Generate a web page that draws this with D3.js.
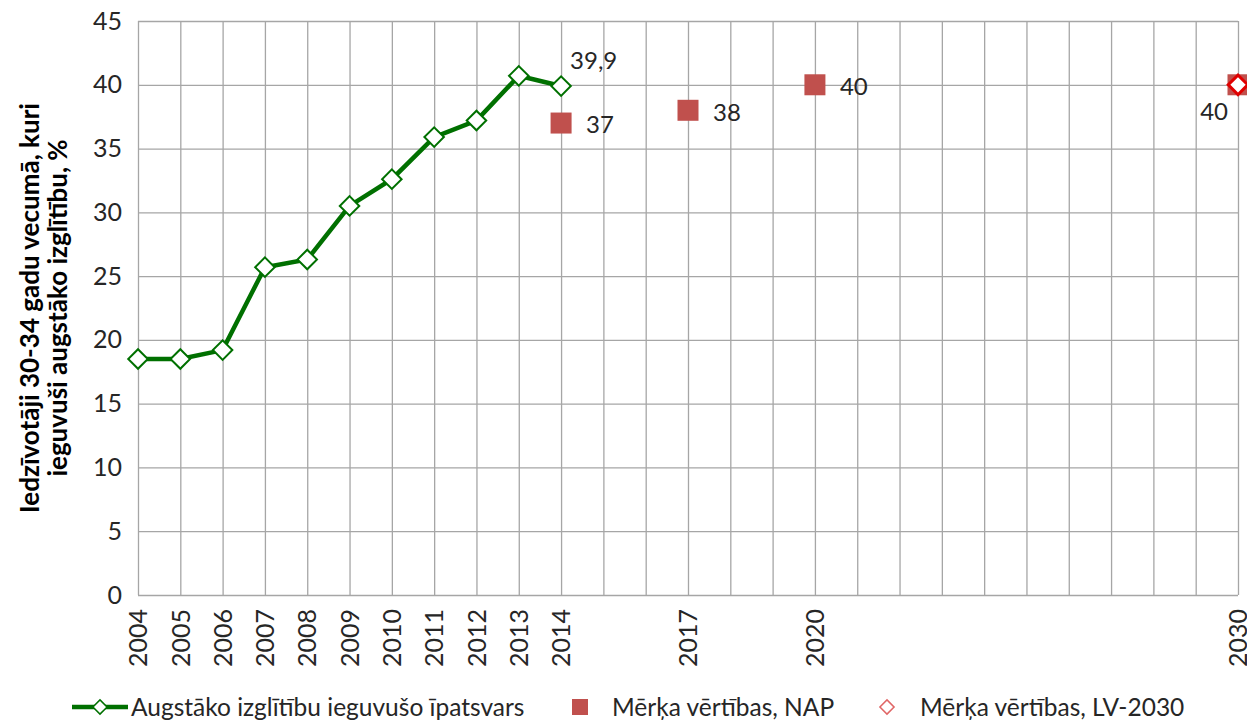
<!DOCTYPE html>
<html>
<head>
<meta charset="utf-8">
<script src="https://cdn.jsdelivr.net/npm/d3@7"></script>
<style>
  body { margin: 0; background: #fff; }
  text { font-family: Lato, "Open Sans", sans-serif; }
</style>
</head>
<body>
<div id="chart"></div>
<script>
// data
var years = [2004, 2005, 2006, 2007, 2008, 2009, 2010, 2011, 2012, 2013, 2014];
var shareValues = [18.5, 18.5, 19.2, 25.7, 26.3, 30.5, 32.6, 35.9, 37.2, 40.7, 39.9];
var napYears = [2014, 2017, 2020, 2030];
var napValues = [37, 38, 40, 40];
var lvYears = [2030];
var lvValues = [40];
var xTickLabels = [2004, 2005, 2006, 2007, 2008, 2009, 2010, 2011, 2012, 2013, 2014, 2017, 2020, 2030];
var yTicks = [0, 5, 10, 15, 20, 25, 30, 35, 40, 45];
var yTitle = ["Iedzīvotāji 30-34 gadu vecumā, kuri", "ieguvuši augstāko izglītību, %"];
var legendNames = ["Augstāko izglītību ieguvušo īpatsvars", "Mērķa vērtības, NAP", "Mērķa vērtības, LV-2030"];

var width = 1247, height = 721;
var plotLeft = 138, plotRight = 1238, plotTop = 21, plotBottom = 595;

var svg = d3.select("#chart")
    .append("svg")
    .attr("width", width)
    .attr("height", height);

var xScale = d3.scaleLinear().domain([2004, 2030]).range([plotLeft, plotRight]);
var yScale = d3.scaleLinear().domain([0, 45]).range([plotBottom, plotTop]);

// grid
svg.append("g")
    .attr("transform", `translate(0, ${plotBottom})`)
    .call(d3.axisBottom(xScale).tickValues(d3.range(2004, 2031)).tickSize(-(plotBottom - plotTop)).tickFormat(""))
    .call(g => g.select(".domain").remove())
    .call(g => g.selectAll("line").attr("stroke", "#a6a6a6").attr("stroke-width", 1.3));

svg.append("g")
    .attr("transform", `translate(${plotLeft}, 0)`)
    .call(d3.axisLeft(yScale).tickValues(yTicks).tickSize(-(plotRight - plotLeft)).tickFormat(""))
    .call(g => g.select(".domain").remove())
    .call(g => g.selectAll("line").attr("stroke", "#a6a6a6").attr("stroke-width", 1.3));

// y axis labels
svg.append("g")
    .attr("transform", `translate(${plotLeft}, 0)`)
    .call(d3.axisLeft(yScale).tickValues(yTicks).tickSize(0).tickPadding(16))
    .call(g => g.select(".domain").remove())
    .call(g => g.selectAll("text")
        .attr("font-size", "25px").attr("fill", "#262626")
        .style("font-family", "Lato, sans-serif"));

// x axis labels
svg.append("g")
    .attr("transform", `translate(0, ${plotBottom})`)
    .call(d3.axisBottom(xScale).tickValues(xTickLabels).tickSize(0).tickFormat(d3.format("d")))
    .call(g => g.select(".domain").remove())
    .call(g => g.selectAll("text")
        .attr("font-size", "25px").attr("fill", "#262626")
        .style("font-family", "Lato, sans-serif")
        .attr("transform", "rotate(-90)")
        .attr("text-anchor", "end")
        .attr("x", -14).attr("y", 0).attr("dy", "0.35em"));

// y title
var titleG = svg.append("g").attr("transform", "translate(44, 308) rotate(-90)");
titleG.selectAll("text")
    .data(yTitle)
    .enter()
    .append("text")
    .text(d => d)
    .attr("x", 0)
    .attr("y", (d, i) => -5 + i * 28)
    .attr("text-anchor", "middle")
    .attr("font-size", "26px")
    .attr("font-weight", "bold")
    .attr("fill", "#000");

// line series
var green = "#007000";
var line = d3.line()
    .x((d, i) => xScale(years[i]))
    .y(d => yScale(d));
svg.append("path")
    .datum(shareValues)
    .attr("d", line)
    .attr("fill", "none")
    .attr("stroke", green)
    .attr("stroke-width", 4.5);

svg.selectAll()
    .data(shareValues)
    .enter()
    .append("path")
    .attr("d", d3.symbol().type(d3.symbolSquare).size(190))
    .attr("transform", (d, i) => `translate(${xScale(years[i])}, ${yScale(d)}) rotate(45)`)
    .attr("fill", "#fff")
    .attr("stroke", green)
    .attr("stroke-width", 2);

// NAP squares
var red = "#c0504d";
svg.selectAll()
    .data(napValues)
    .enter()
    .append("rect")
    .attr("x", (d, i) => xScale(napYears[i]) - 10.5)
    .attr("y", d => yScale(d) - 10.5)
    .attr("width", 21)
    .attr("height", 21)
    .attr("fill", red);

// LV-2030 diamonds
svg.selectAll()
    .data(lvValues)
    .enter()
    .append("path")
    .attr("d", d3.symbol().type(d3.symbolSquare).size(190))
    .attr("transform", (d, i) => `translate(${xScale(lvYears[i])}, ${yScale(d)}) rotate(45)`)
    .attr("fill", "#fff")
    .attr("stroke", "#e00000")
    .attr("stroke-width", 3);

// data labels
svg.append("text")
    .text(String(shareValues[shareValues.length - 1]).replace(".", ","))
    .attr("x", xScale(years[years.length - 1]) + 9)
    .attr("y", yScale(shareValues[shareValues.length - 1]) - 17)
    .attr("font-size", "24px").attr("fill", "#262626");

svg.selectAll()
    .data(napValues.slice(0, 3))
    .enter()
    .append("text")
    .text(d => d)
    .attr("x", (d, i) => xScale(napYears[i]) + 25)
    .attr("y", d => yScale(d) + 2)
    .attr("dy", "0.35em")
    .attr("font-size", "24px").attr("fill", "#262626");

svg.selectAll()
    .data(lvValues)
    .enter()
    .append("text")
    .text(d => d)
    .attr("x", (d, i) => xScale(lvYears[i]) - 10)
    .attr("y", d => yScale(d) + 27)
    .attr("dy", "0.35em")
    .attr("text-anchor", "end")
    .attr("font-size", "24px").attr("fill", "#262626");

// legend
var ly = 707;
var leg = svg.append("g");
leg.append("line")
    .attr("x1", 72).attr("x2", 128).attr("y1", ly).attr("y2", ly)
    .attr("stroke", green).attr("stroke-width", 4.5);
leg.append("path")
    .attr("d", d3.symbol().type(d3.symbolSquare).size(100))
    .attr("transform", `translate(100, ${ly}) rotate(45)`)
    .attr("fill", "#fff").attr("stroke", green).attr("stroke-width", 1.5);
leg.append("rect")
    .attr("x", 572).attr("y", ly - 8).attr("width", 16).attr("height", 16)
    .attr("fill", red);
leg.append("path")
    .attr("d", d3.symbol().type(d3.symbolSquare).size(100))
    .attr("transform", `translate(887, ${ly}) rotate(45)`)
    .attr("fill", "#fff").attr("stroke", "#e06666").attr("stroke-width", 1.5);
leg.selectAll("text")
    .data(legendNames)
    .enter()
    .append("text")
    .text(d => d)
    .attr("x", (d, i) => [131, 612, 920][i])
    .attr("y", ly)
    .attr("dy", "0.35em")
    .attr("font-size", "24.5px")
    .attr("fill", "#262626");
</script>
</body>
</html>
